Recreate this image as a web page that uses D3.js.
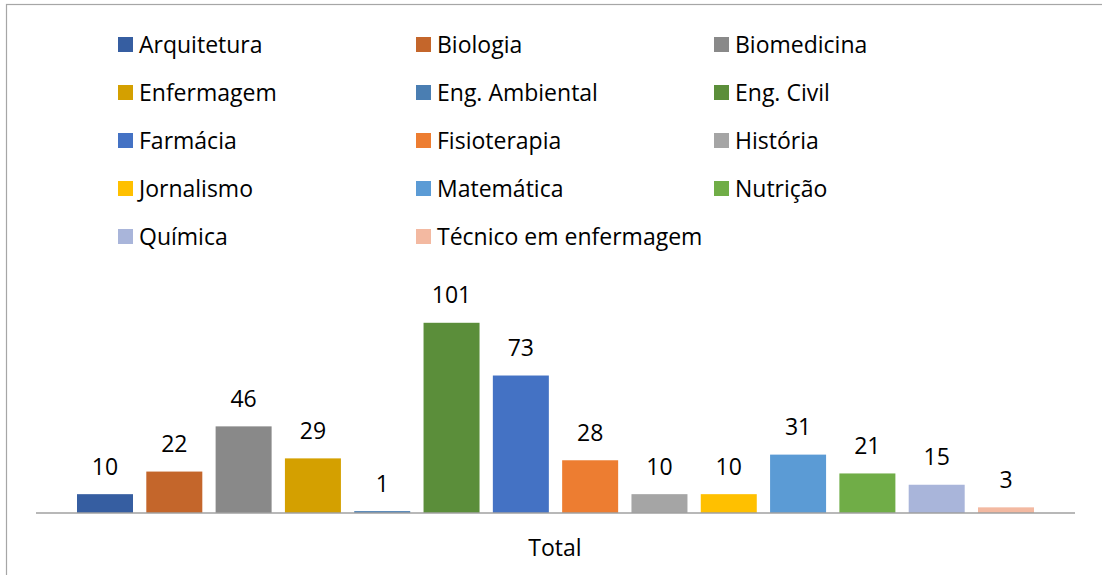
<!DOCTYPE html>
<html>
<head>
<meta charset="utf-8">
<script src="https://cdn.jsdelivr.net/npm/d3@7"></script>
<style>
  body { margin: 0; background: #fff; }
</style>
</head>
<body>
<div id="chart"></div>
<script>
// data
var cursos = ["Arquitetura", "Biologia", "Biomedicina", "Enfermagem", "Eng. Ambiental", "Eng. Civil",
  "Farmácia", "Fisioterapia", "História", "Jornalismo", "Matemática", "Nutrição",
  "Química", "Técnico em enfermagem"];
var totais = [10, 22, 46, 29, 1, 101, 73, 28, 10, 10, 31, 21, 15, 3];
var cores = ["#365ea1", "#c4662b", "#898989", "#d4a000", "#4a7eb2", "#5b8e3a",
  "#4472c4", "#ed7d31", "#a5a5a5", "#ffc000", "#5b9bd5", "#70ad47",
  "#a9b5da", "#f3b9a1"];
var categoria = "Total";

var W = 1102, H = 575;
var font = '"Open Sans", sans-serif';
var fs = "23px";

var svg = d3.select("#chart").append("svg")
    .attr("width", W)
    .attr("height", H);

// chart border (cut off at right/bottom like the original)
svg.append("rect")
    .attr("x", 6.5).attr("y", 4.5)
    .attr("width", 1200).attr("height", 700)
    .attr("fill", "#fff")
    .attr("stroke", "#a6a6a6")
    .attr("stroke-width", 1.2);

var x = d3.scaleBand()
    .domain(cursos)
    .range([77, 1034])
    .paddingInner(0.192)
    .paddingOuter(0);

var y = d3.scaleLinear().domain([0, 120]).range([513, 287]);

var color = d3.scaleOrdinal().domain(cursos).range(cores);

var data = cursos.map(function(c, i) { return { curso: c, total: totais[i] }; });

// bars
svg.selectAll(".bar")
    .data(data)
    .enter().append("rect")
    .attr("class", "bar")
    .attr("x", function(d) { return x(d.curso); })
    .attr("y", function(d) { return y(d.total); })
    .attr("width", x.bandwidth())
    .attr("height", function(d) { return y(0) - y(d.total); })
    .attr("fill", function(d) { return color(d.curso); });

// value labels
svg.selectAll(".lbl")
    .data(data)
    .enter().append("text")
    .attr("class", "lbl")
    .attr("x", function(d) { return x(d.curso) + x.bandwidth() / 2; })
    .attr("y", function(d) { return y(d.total) - 19.5; })
    .attr("text-anchor", "middle")
    .style("font-family", font)
    .style("font-size", fs)
    .style("fill", "#000")
    .text(function(d) { return d.total; });

// category axis line
svg.append("line")
    .attr("x1", 36).attr("x2", 1075)
    .attr("y1", 513).attr("y2", 513)
    .attr("stroke", "#a0a0a0")
    .attr("stroke-width", 1.5);

svg.append("text")
    .attr("x", 555)
    .attr("y", 556)
    .attr("text-anchor", "middle")
    .style("font-family", font)
    .style("font-size", fs)
    .style("fill", "#000")
    .text(categoria);

// legend, 3 columns
var colX = [118, 416, 714];
var legend = svg.selectAll(".legend")
    .data(data)
    .enter().append("g")
    .attr("class", "legend")
    .attr("transform", function(d, i) {
        return "translate(" + colX[i % 3] + "," + (37 + Math.floor(i / 3) * 48) + ")";
    });

legend.append("rect")
    .attr("width", 15).attr("height", 15)
    .attr("fill", function(d) { return color(d.curso); });

legend.append("text")
    .attr("x", 21)
    .attr("y", 15.5)
    .style("font-family", font)
    .style("font-size", fs)
    .style("fill", "#000")
    .text(function(d) { return d.curso; });
</script>
</body>
</html>
